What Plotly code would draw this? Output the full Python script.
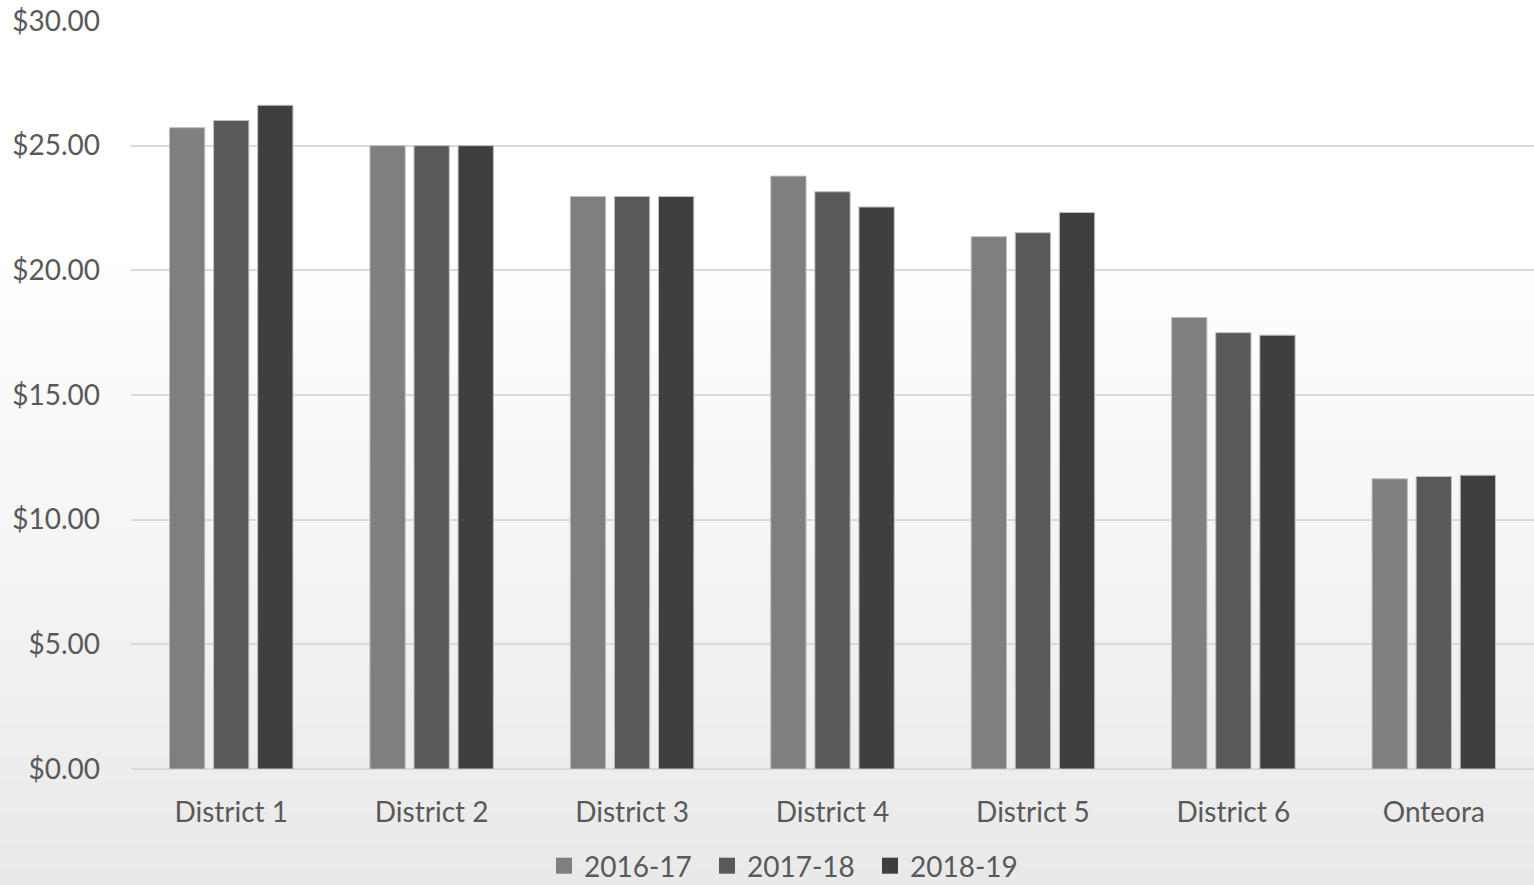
import plotly.graph_objects as go

categories = ["District 1", "District 2", "District 3", "District 4", "District 5", "District 6", "Onteora"]
series_names = ["2016-17", "2017-18", "2018-19"]
v2016 = [25.72, 25.00, 22.96, 23.78, 21.35, 18.11, 11.64]
v2017 = [26.01, 25.00, 22.96, 23.15, 21.51, 17.50, 11.73]
v2018 = [26.62, 25.00, 22.96, 22.54, 22.32, 17.40, 11.78]
colors = ["#7f7f7f", "#595959", "#3f3f3f"]
y_ticks = [0, 5, 10, 15, 20, 25, 30]
y_tick_labels = ["$0.00", "$5.00", "$10.00", "$15.00", "$20.00", "$25.00", "$30.00"]

W, H = 1534, 885
ml, mr, mt, mb = 131, 0, 21, 116
plot_h = H - mt - mb
FONT = "Lato"
FS = 28
TXT = "#595959"

fig = go.Figure()
for name, vals, c in zip(series_names, [v2016, v2017, v2018], colors):
    fig.add_trace(go.Bar(x=categories, y=vals, name=name, marker=dict(color=c, line=dict(color="#bfbfbf", width=1)),
                         showlegend=False, legendgroup=name))
for name, c in zip(series_names, colors):
    fig.add_trace(go.Scatter(x=[None], y=[None], mode="markers", name=name, legendgroup=name,
                             marker=dict(symbol="square", size=19, color=c)))

# background gradient (white top -> light gray bottom)
shapes = []
n = 80
y_start = 250
for i in range(n):
    p0 = y_start + (H - y_start) * i / n
    p1 = y_start + (H - y_start) * (i + 1) / n
    t = (i + 0.5) / n
    g = round(255 - (255 - 233) * t)
    col = f"rgb({g},{g},{g})"
    y0 = (H - mb - p1) / plot_h
    y1 = (H - mb - p0) / plot_h
    shapes.append(dict(type="rect", xref="paper", yref="paper", x0=-ml / (W - ml - mr), x1=1.0,
                       y0=y0 - 0.001, y1=y1 + 0.001, fillcolor=col, line=dict(width=0), layer="below"))

fig.update_layout(
    width=W, height=H,
    margin=dict(l=ml, r=mr, t=mt, b=mb, autoexpand=False),
    paper_bgcolor="white", plot_bgcolor="rgba(0,0,0,0)",
    barmode="group", bargap=0.34, bargroupgap=0.2,
    font=dict(family=FONT, size=FS, color=TXT),
    shapes=shapes,
    showlegend=True,
    legend=dict(orientation="h", x=544 / W, xanchor="left", xref="container", yref="container",
                y=(H - 866) / H, yanchor="middle",
                font=dict(family=FONT, size=FS, color=TXT), bgcolor="rgba(0,0,0,0)",
                itemwidth=30, entrywidth=118, entrywidthmode="pixels", tracegroupgap=0),
    xaxis=dict(showgrid=False, showline=False, ticks="", ticklabelstandoff=24,
               tickfont=dict(family=FONT, size=FS, color=TXT)),
    yaxis=dict(range=[0, 30], tickvals=y_ticks, ticktext=y_tick_labels, showgrid=True,
               gridcolor="#d9d9d9", gridwidth=2, zeroline=True, zerolinecolor="#d9d9d9", zerolinewidth=2,
               showline=False, ticks="", ticklabelstandoff=30,
               tickfont=dict(family=FONT, size=FS, color=TXT)),
)
fig.write_html("out.html")
